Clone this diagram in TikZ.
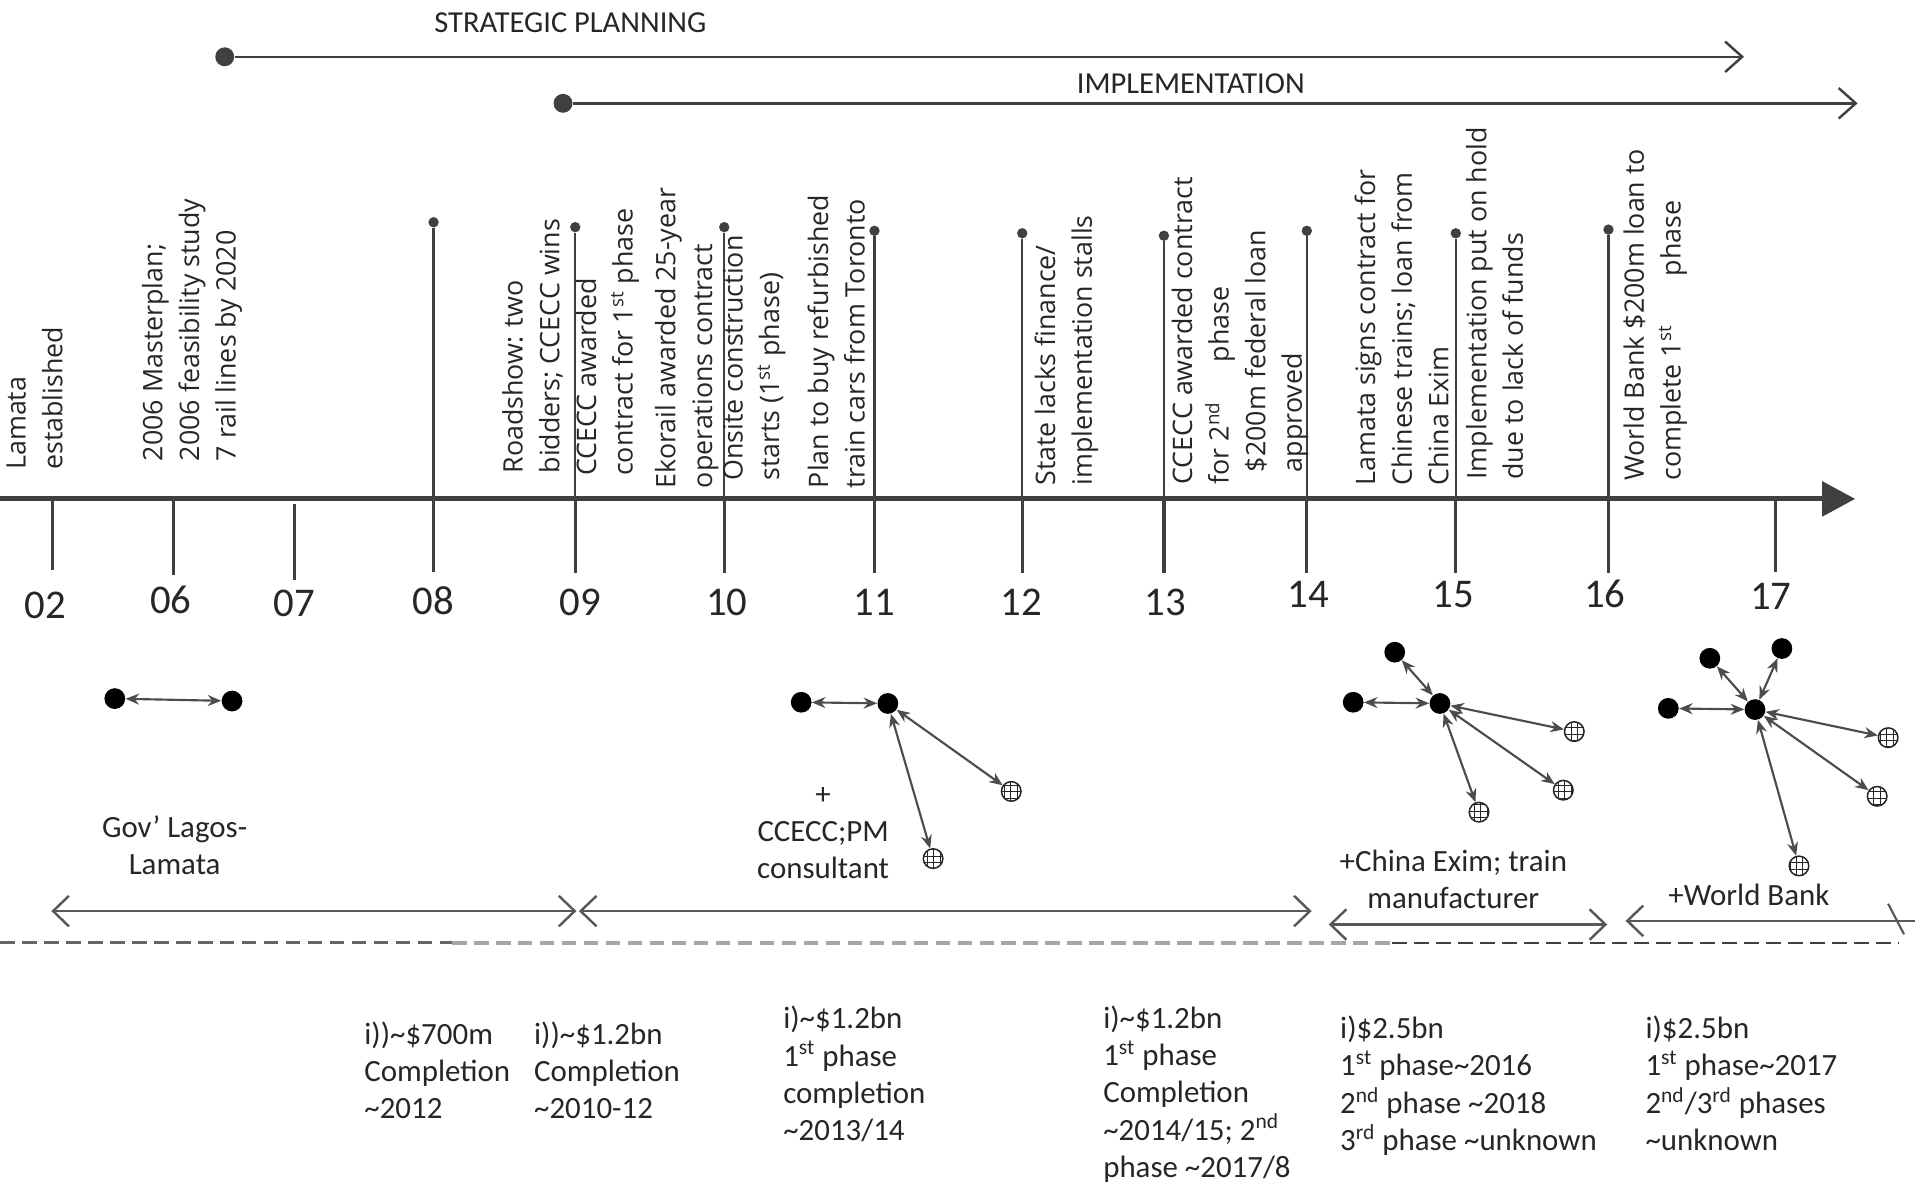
\documentclass[tikz,border=0pt]{standalone}
\usepackage{fontspec}
\setmainfont{Carlito}
\newfontfamily\evfont{Open Sans}
\usetikzlibrary{arrows.meta,patterns,positioning}
\newcommand\apx{\textasciitilde}

\begin{document}
\begin{tikzpicture}[x=0.2mm,y=-0.2mm,
    axisln/.style={draw=black!75,line width=0.8mm},
    tck/.style={draw=black!75,line width=0.55mm},
    stemln/.style={draw=black!75,line width=0.35mm},
    knob/.style={circle,fill=black!75,inner sep=0pt,minimum size=1.7mm},
    bigdot/.style={circle,fill=black!75,inner sep=0pt,minimum size=3.1mm},
    yr/.style={font=\fontsize{19}{22}\selectfont,text=black!85,inner sep=0pt},
    hdr/.style={font=\fontsize{14.2}{17}\selectfont,text=black!85,inner sep=0pt},
    evt/.style={rotate=90,anchor=base west,align=left,inner sep=0pt,text=black!85,
        font=\evfont\fontsize{12.5}{17.07}\selectfont},
    who/.style={align=center,inner sep=0pt,text=black!85,font=\fontsize{14.4}{17.36}\selectfont},
    cost/.style={anchor=base west,align=left,inner sep=0pt,text=black!85,
        font=\fontsize{14.4}{17.36}\selectfont},
    actor/.style={circle,fill=black,inner sep=0pt,minimum size=3.4mm},
    sat/.style={circle,draw=black!85,line width=0.25mm,pattern=grid,pattern color=black!85,
        inner sep=0pt,minimum size=3.2mm},
    lnk/.style={draw=black!70,line width=0.35mm,
        {Stealth[length=2.2mm,width=1.8mm]}-{Stealth[length=2.2mm,width=1.8mm]}},
    spanarr/.style={draw=black!65,line width=0.4mm,
        {Straight Barb[length=2.6mm,width=5mm]}-{Straight Barb[length=2.6mm,width=5mm]}},
    phasearr/.style={draw=black!75,line width=0.4mm,-{Straight Barb[length=2.8mm,width=5mm]}}]

\useasboundingbox (0,0) rectangle (1568,970);

% phases on top
\node[hdr] (hStrat) at (467,18.5) {STRATEGIC PLANNING};
\node[bigdot] (sStrat) at (184,46.5) {};
\coordinate (eStrat) at (1428,46.5);
\draw[phasearr] (sStrat) -- (eStrat);
\node[hdr] (hImpl) at (975,68.5) {IMPLEMENTATION};
\node[bigdot] (sImpl) at (461,84.6) {};
\coordinate (eImpl) at (1521,84.6);
\draw[phasearr] (sImpl) -- (eImpl);

% time axis
\coordinate (a0) at (0,408.5);
\coordinate (a1) at (1519,408.5);
\draw[axisln,-{Triangle[length=5.4mm,width=5.6mm]}] (a0) -- (a1);

% ticks and years
\foreach \nm/\x/\yt/\yb/\xl/\yl in {02/43/409/467/37/496, 06/142/409/471/140/491,
    07/241/413/475/241/494, 08/355/409/468/355/492, 09/471/409/469/475/493,
    10/593/409/469/595/493, 11/716/409/469/716/493, 12/837/409/469/836/493,
    13/953/409/469/954/493, 14/1070/409/469/1071/487, 15/1192/409/469/1190/487,
    16/1317/409/469/1314/486, 17/1454/407/468/1450/488}{
    \coordinate (t\nm) at (\x,\yt);
    \coordinate (b\nm) at (\x,\yb);
    \draw[tck] (t\nm) -- (b\nm);
    \node[yr] (y\nm) at (\xl,\yl) {\nm};
}

% event stems
\foreach \nm/\x/\y in {08/355/182, 09/471/186, 10/593/186, 11/716/189, 12/837/191,
    13/953/193, 14/1070/189, 15/1192/191, 16/1317/188}{
    \node[knob] (k\nm) at (\x,\y) {};
    \draw[stemln] (k\nm) -- (t\nm);
}

% events (anchored at the baseline of the last line)
\node[evt] (lEst) at (51,385) {Lamata\\established};
\node[evt] (lPlan) at (193,378) {2006 Masterplan;\\2006 feasibility study\\7 rail lines by 2020};
\node[evt] (lRoad) at (458,388) {Roadshow: two\\bidders; CCECC wins};
\node[evt] (lAward) at (518,390) {CCECC awarded\\contract for 1\textsuperscript{st} phase};
\node[evt] (lEko) at (583,400) {Ekorail awarded 25-year\\operations contract};
\node[evt] (lSite) at (638,394) {Onsite construction\\starts (1\textsuperscript{st} phase)};
\node[evt] (lToro) at (708,400) {Plan to buy refurbished\\train cars from Toronto};
\node[evt] (lStall) at (894,398) {State lacks finance/\\implementation stalls};
\node[evt] (lAward2) at (1066,397) {CCECC awarded contract\\for 2\textsuperscript{nd}\hspace{6.5mm}phase\\
    \hspace*{2mm}\$200m federal loan\\\hspace*{2mm}approved};
\node[evt] (lSign) at (1186,398) {Lamata signs contract for\\Chinese trains; loan from\\China Exim};
\node[evt] (lHold) at (1247,393) {Implementation put on hold\\due to lack of funds};
\node[evt] (lWB) at (1376,394) {World Bank \$200m loan to\\complete 1\textsuperscript{st}\hspace{8mm}phase};

% actor networks
\node[actor] (g1a) at (94,572) {};
\node[actor] (g1b) at (190,574) {};
\draw[lnk] (g1a) -- (g1b);
\node[who] (wGov) at (143,692) {Gov’ Lagos-\\Lamata};

\node[actor] (g2a) at (656,575) {};
\node[actor] (g2h) at (727,576) {};
\node[sat] (g2s1) at (828,648) {};
\node[sat] (g2s2) at (764,703) {};
\draw[lnk] (g2a) -- (g2h);
\draw[lnk] (g2h) -- (g2s1);
\draw[lnk] (g2h) -- (g2s2);
\node[who] (wCon) at (674,682) {+\\CCECC;PM\\consultant};

\node[actor] (g3a) at (1108,575) {};
\node[actor] (g3h) at (1179,576) {};
\node[actor] (g3t) at (1142,534) {};
\node[sat] (g3s1) at (1289,599) {};
\node[sat] (g3s2) at (1280,647) {};
\node[sat] (g3s3) at (1211,665) {};
\foreach \o in {g3a,g3t,g3s1,g3s2,g3s3}{\draw[lnk] (\o) -- (g3h);}
\node[who] (wExim) at (1190,720) {+China Exim; train\\manufacturer};

\node[actor] (g4a) at (1366,580) {};
\node[actor] (g4h) at (1437,581) {};
\node[actor] (g4t1) at (1400,539) {};
\node[actor] (g4t2) at (1459,531) {};
\node[sat] (g4s1) at (1546,604) {};
\node[sat] (g4s2) at (1537,652) {};
\node[sat] (g4s3) at (1473,709) {};
\foreach \o in {g4a,g4t1,g4t2,g4s1,g4s2,g4s3}{\draw[lnk] (\o) -- (g4h);}
\node[who] (wWB) at (1432,733) {+World Bank};

% spans
\coordinate (p1a) at (42,746);  \coordinate (p1b) at (472,746);
\coordinate (p2a) at (474,746); \coordinate (p2b) at (1074,746);
\coordinate (p3a) at (1088,757); \coordinate (p3b) at (1316,757);
\coordinate (p4a) at (1331,754); \coordinate (p4b) at (1568,754);
\draw[spanarr] (p1a) -- (p1b);
\draw[spanarr] (p2a) -- (p2b);
\draw[spanarr] (p3a) -- (p3b);
\draw[draw=black!65,line width=0.4mm,{Straight Barb[length=2.6mm,width=5mm]}-] (p4a) -- (p4b);
\coordinate (q4a) at (1546,740); \coordinate (q4b) at (1559,765);
\draw[draw=black!65,line width=0.35mm] (q4a) -- (q4b);

% divider
\draw[draw=black!60,line width=0.5mm,dash pattern=on 2.4mm off 1.2mm] (0,772) -- (370,772);
\draw[draw=black!35,line width=0.6mm,dash pattern=on 2.4mm off 1.2mm] (370,772) -- (1140,772);
\draw[draw=black!75,line width=0.35mm,dash pattern=on 2.4mm off 1.2mm] (1140,772) -- (1555,772);

% costs and dates (anchored at the baseline of the last line)
\node[cost] (c1) at (298,916) {i))\apx\$700m\\Completion\\\apx2012};
\node[cost] (c2) at (437,916) {i))\apx\$1.2bn\\Completion\\\apx2010-12};
\node[cost] (c3) at (641,934) {i)\apx\$1.2bn\\1\textsuperscript{st} phase\\completion\\\apx2013/14};
\node[cost] (c4) at (903,964) {i)\apx\$1.2bn\\1\textsuperscript{st} phase\\Completion\\
    \apx2014/15; 2\textsuperscript{nd}\\phase \apx2017/8};
\node[cost] (c5) at (1097,942) {i)\$2.5bn\\1\textsuperscript{st} phase\apx2016\\
    2\textsuperscript{nd} phase \apx2018\\3\textsuperscript{rd} phase \apx unknown};
\node[cost] (c6) at (1347,942) {i)\$2.5bn\\1\textsuperscript{st} phase\apx2017\\
    2\textsuperscript{nd}/3\textsuperscript{rd} phases\\\apx unknown};
\end{tikzpicture}
\end{document}
